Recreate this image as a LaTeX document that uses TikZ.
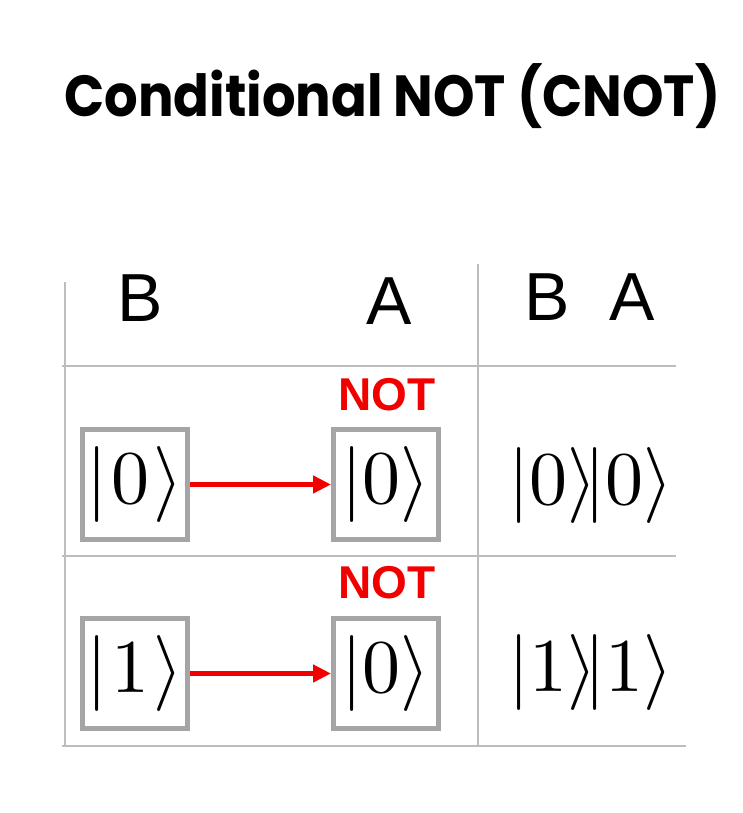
\documentclass[tikz,border=0pt]{standalone}
\usepackage{fontspec}
\usepackage{unicode-math}
\setmainfont{Latin Modern Roman}
\setmathfont{Latin Modern Math}
\newfontfamily\titlefont{Poppins}[UprightFont=* SemiBold, BoldFont=* Bold]
\newfontfamily\labfont{Liberation Sans}
\usetikzlibrary{arrows.meta}
\definecolor{gridgray}{HTML}{BDBDBD}
\definecolor{boxgray}{HTML}{A5A5A5}
\definecolor{notred}{HTML}{F20000}
\tikzset{
  gridline/.style={draw=gridgray, line width=2.2pt},
  qbox/.style={draw=boxgray, line width=5pt, minimum width=105pt, minimum height=110pt, inner sep=0pt,
     font=\fontsize{76}{78}\selectfont},
  ket/.style={inner sep=0pt, font=\fontsize{76}{78}\selectfont},
  hdr/.style={inner sep=0pt, font=\labfont\fontsize{68}{70}\selectfont},
  notlbl/.style={inner sep=0pt, text=notred, font=\labfont\bfseries\fontsize{46}{48}\selectfont},
  cnotarrow/.style={draw=notred, line width=4.5pt, -{Triangle[length=18pt,width=17pt]}},
}
\begin{document}
\begin{tikzpicture}[x=1pt,y=-1pt]
\useasboundingbox (0,0) rectangle (743,813);
% title
\node[inner sep=0pt, anchor=base west, font=\titlefont\bfseries\fontsize{58}{60}\selectfont] (title) at (64,117) {\scalebox{0.91}[1]{Conditional NOT (CNOT)}};
% grid
\draw[gridline] (65,282) -- (65,746);
\draw[gridline] (478,264) -- (478,746);
\draw[gridline] (62,366) -- (676,366);
\draw[gridline] (62,556) -- (676,556);
\draw[gridline] (62,746) -- (686,746);
% headers
\node[hdr, anchor=base] (hB) at (140,321) {B};
\node[hdr, anchor=base] (hA) at (389,324) {A};
\node[hdr, anchor=base] (rB) at (547,320) {B};
\node[hdr, anchor=base] (rA) at (632,320) {A};
% row 1
\node[notlbl, anchor=base] (not1) at (387,410) {NOT};
\node[qbox] (b1) at (135,484.5) {$|\mkern1mu0\mkern1mu\rangle$};
\node[qbox] (a1) at (386,484.5) {$|0\rangle$};
\draw[cnotarrow] (b1.east) -- (a1.west);
\node[ket] (r1) at (591,485) {$|0\rangle\mkern-3mu|0\rangle$};
% row 2
\node[notlbl, anchor=base] (not2) at (387,598) {NOT};
\node[qbox] (b2) at (135,673.5) {$|\mkern1mu1\mkern1mu\rangle$};
\node[qbox] (a2) at (386,673.5) {$|0\rangle$};
\draw[cnotarrow] (b2.east) -- (a2.west);
\node[ket] (r2) at (591,672) {$|1\rangle\mkern-3mu|1\rangle$};
\end{tikzpicture}
\end{document}
